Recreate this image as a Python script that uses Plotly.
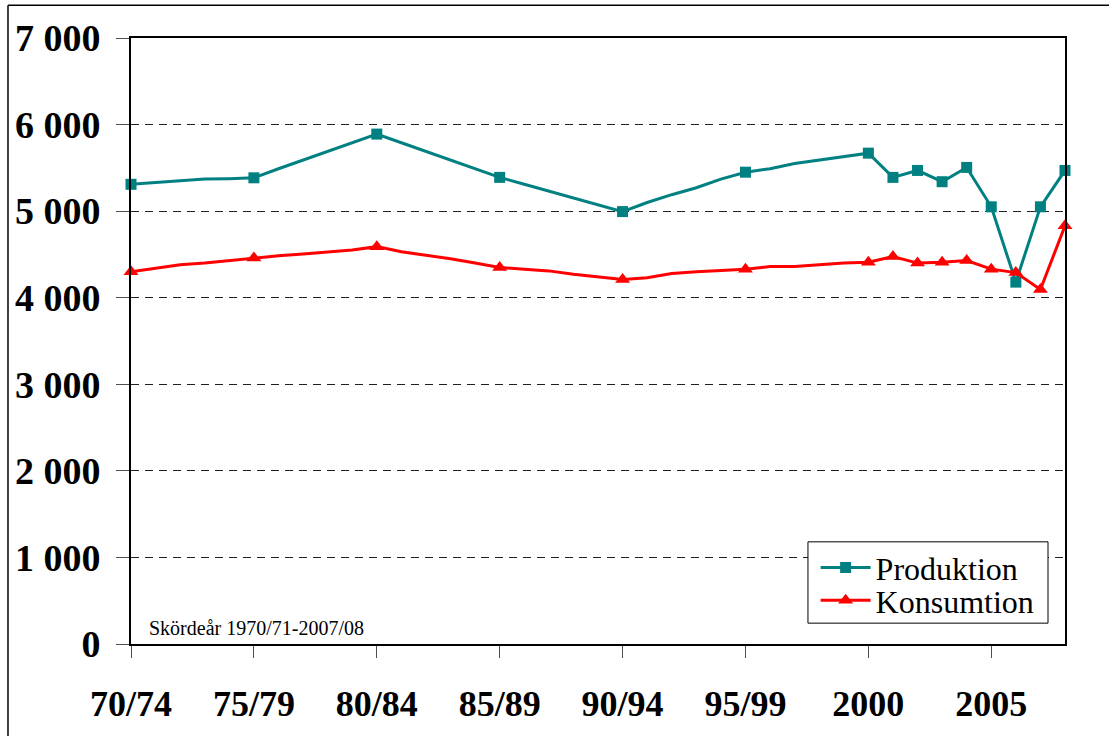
import plotly.graph_objects as go

years = list(range(1970, 2009))
produktion = [5310, 5330, 5350, 5370, 5375, 5385, 5490, 5590, 5690, 5790,
              5890, 5790, 5690, 5590, 5490, 5390, 5310, 5230, 5150, 5070,
              4995, 5100, 5190, 5270, 5370, 5450, 5490, 5550, 5590, 5630,
              5670, 5390, 5470, 5340, 5505, 5050, 4180, 5050, 5470]
konsumtion = [4300, 4340, 4380, 4400, 4430, 4460, 4485, 4505, 4530, 4550,
              4590, 4530, 4490, 4450, 4400, 4350, 4330, 4310, 4270, 4240,
              4210, 4230, 4280, 4300, 4315, 4330, 4360, 4360, 4380, 4400,
              4410, 4475, 4400, 4410, 4430, 4330, 4290, 4095, 4830]
marked_years = [1970, 1975, 1980, 1985, 1990, 1995, 2000, 2001, 2002, 2003,
                2004, 2005, 2006, 2007, 2008]
x_tickvals = [1970, 1975, 1980, 1985, 1990, 1995, 2000, 2005]
x_ticktext = ["70/74", "75/79", "80/84", "85/89", "90/94", "95/99", "2000", "2005"]
y_tickvals = [0, 1000, 2000, 3000, 4000, 5000, 6000, 7000]
y_ticktext = ["0", "1 000", "2 000", "3 000", "4 000", "5 000", "6 000", "7 000"]
series_names = ["Produktion", "Konsumtion"]
note_text = "Skördeår 1970/71-2007/08"

colors = ["#008080", "#FF0000"]
symbols = ["square", "triangle-up"]
msizes = [11, 13]
legend_ids = ["legend", "legend2"]
serif = "Times New Roman, Liberation Serif, serif"

fig = go.Figure()
for name, vals, col, sym, ms, lg in zip(series_names, [produktion, konsumtion], colors,
                                        symbols, msizes, legend_ids):
    fig.add_trace(go.Scatter(x=years, y=vals, mode="lines", line=dict(color=col, width=3),
                             showlegend=False, hoverinfo="skip"))
    mx = [y for y in years if y in marked_years]
    my = [v for y, v in zip(years, vals) if y in marked_years]
    fig.add_trace(go.Scatter(x=mx, y=my, mode="markers", cliponaxis=False,
                             marker=dict(color=col, symbol=sym, size=ms),
                             showlegend=False, name=name))
    fig.add_trace(go.Scatter(x=[None], y=[None], mode="lines+markers", name=name,
                             legend=lg,
                             line=dict(color=col, width=3),
                             marker=dict(color=col, symbol=sym, size=ms)))

leg_common = dict(xanchor="left", yanchor="middle", bgcolor="rgba(0,0,0,0)",
                  borderwidth=0, itemwidth=50,
                  font=dict(family=serif, size=32, color="black"))

fig.update_layout(
    width=1109, height=736,
    margin=dict(l=131, r=44, t=38, b=87),
    paper_bgcolor="white", plot_bgcolor="white",
    font=dict(family=serif, color="black"),
    showlegend=True,
    legend=dict(x=0.733, y=0.126, **leg_common),
    legend2=dict(x=0.733, y=0.072, **leg_common),
    xaxis=dict(range=[1970, 2008], tickvals=x_tickvals, ticktext=x_ticktext,
               showgrid=False, zeroline=False, showline=True, linecolor="black",
               linewidth=2, mirror=True, ticks="outside", ticklen=12,
               tickcolor="#505050", tickwidth=1,
               tickfont=dict(family=serif, size=36, color="black", weight="bold"),
               ticklabelstandoff=15),
    yaxis=dict(range=[0, 7000], tickvals=y_tickvals, ticktext=y_ticktext,
               showgrid=True, gridcolor="#202020", gridwidth=1, griddash="8px,6px",
               zeroline=False, showline=True, linecolor="black", linewidth=2,
               mirror=True, ticks="outside", ticklen=13, tickcolor="#505050",
               tickwidth=1,
               tickfont=dict(family=serif, size=38, color="black", weight="bold"),
               ticklabelstandoff=8),
    annotations=[dict(text=note_text, xref="paper", yref="paper",
                      x=0.017, y=0.026, xanchor="left", yanchor="middle",
                      showarrow=False,
                      font=dict(family=serif, size=20, color="black"))],
    shapes=[
        dict(type="rect", xref="paper", yref="paper", x0=0.7248, x1=0.9818,
             y0=0.0344, y1=0.1686, fillcolor="white", layer="above",
             line=dict(color="black", width=1)),
        dict(type="line", xref="paper", yref="paper", x0=-0.1317, x1=1.2, y0=1.054, y1=1.054,
             line=dict(color="black", width=1.5)),
        dict(type="line", xref="paper", yref="paper", x0=-0.1317, x1=-0.1317, y0=1.054, y1=-0.2,
             line=dict(color="black", width=1.5)),
    ],
)

post = (
    "var h=document.documentElement,b=document.body;"
    "h.style.margin='0';h.style.padding='0';h.style.overflow='hidden';h.style.height='736px';"
    "b.style.margin='0';b.style.padding='0';b.style.overflow='hidden';b.style.height='736px';"
    "b.style.fontSize='0';b.style.lineHeight='0';"
    "var g=document.querySelector('.plotly-graph-div');"
    "if(g){g.style.display='block';if(g.parentNode){g.parentNode.style.fontSize='0';"
    "g.parentNode.style.lineHeight='0';g.parentNode.style.height='736px';}}"
)
fig.write_html("out.html", config={"displayModeBar": False}, post_script=post)
